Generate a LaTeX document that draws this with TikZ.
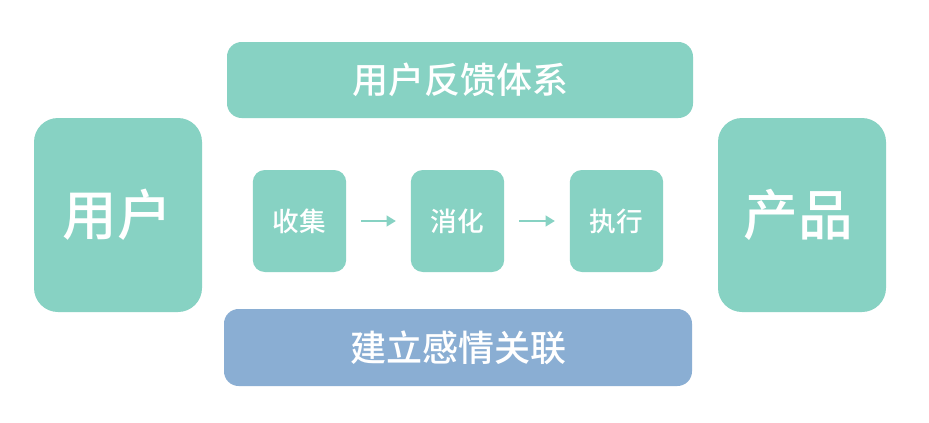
\documentclass[tikz,border=0pt]{standalone}
\usepackage{fontspec}
\newfontfamily\cjk{Noto Sans CJK SC Medium}
\usetikzlibrary{arrows.meta}
\definecolor{teal}{HTML}{87D2C3}
\definecolor{bluebox}{HTML}{8AAED3}
\tikzset{
  box/.style={fill=#1, draw=none, text=white},
  bigbox/.style={box=teal, rounded corners=18pt},
  barbox/.style={box=#1, rounded corners=11pt},
  smallbox/.style={box=teal, rounded corners=9pt, font=\cjk\fontsize{20}{24}\selectfont},
  bigtext/.style={text=white, font=\cjk\fontsize{41}{44}\selectfont},
  bartext/.style={text=white, font=\cjk\fontsize{27}{30}\selectfont},
  flow/.style={draw=teal, line width=1.7pt, -{Triangle[length=7pt,width=8pt]}, shorten <=11pt, shorten >=11pt}
}
\begin{document}
\begin{tikzpicture}[x=0.75pt,y=-0.75pt]
\useasboundingbox (0,0) rectangle (929,422);
\fill[white] (0,0) rectangle (929,422);
% big side boxes
\draw[bigbox] (34,118) rectangle (202,312);
\node[bigtext] (user) at (117,215) {用户};
\draw[bigbox] (718,118) rectangle (886,312);
\node[bigtext] (prod) at (798,215) {产品};
% bars
\draw[barbox=teal] (227,42) rectangle (693,118);
\node[bartext] (fb) at (460,80) {用户反馈体系};
\draw[barbox=bluebox] (224,309) rectangle (692,386);
\node[bartext] (emo) at (458,348) {建立感情关联};
% small boxes
\node[smallbox, minimum width=70pt, minimum height=76.5pt, inner sep=0pt] (collect) at (299.5,221) {收集};
\node[smallbox, minimum width=70pt, minimum height=76.5pt, inner sep=0pt] (digest) at (457.5,221) {消化};
\node[smallbox, minimum width=70pt, minimum height=76.5pt, inner sep=0pt] (exec) at (616.5,221) {执行};
% arrows
\draw[flow] (collect) -- (digest);
\draw[flow] (digest) -- (exec);
\end{tikzpicture}
\end{document}
